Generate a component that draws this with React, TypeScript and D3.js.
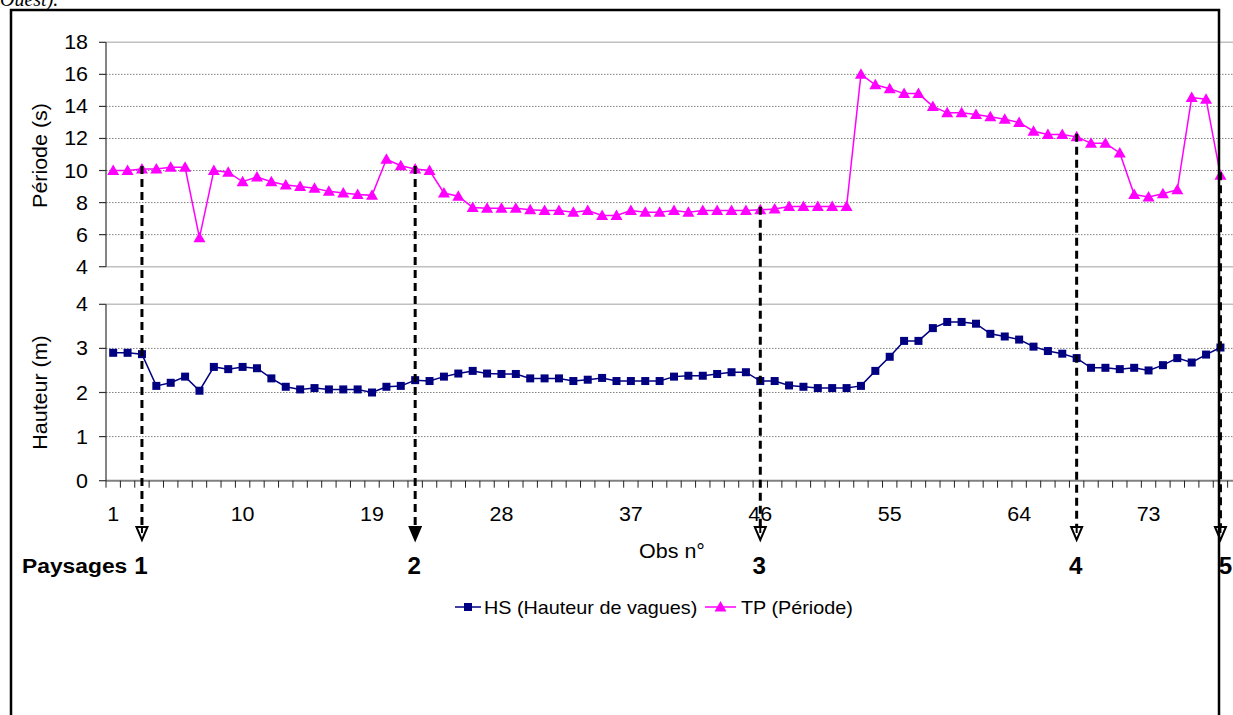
import React from "react";
import * as d3 from "d3";

const OBS: number[] = Array.from({ length: 78 }, (_, i) => i + 1);
const TP: number[] = [
  10.0, 10.0, 10.1, 10.1, 10.2, 10.2, 5.8, 10.0, 9.9, 9.3,
  9.6, 9.3, 9.1, 9.0, 8.9, 8.7, 8.6, 8.5, 8.45, 10.7,
  10.3, 10.1, 10.0, 8.6, 8.4, 7.7, 7.65, 7.65, 7.65, 7.55,
  7.5, 7.5, 7.4, 7.5, 7.2, 7.2, 7.5, 7.4, 7.4, 7.5,
  7.4, 7.5, 7.5, 7.5, 7.5, 7.55, 7.6, 7.75, 7.75, 7.75,
  7.75, 7.75, 16.0, 15.35, 15.1, 14.8, 14.8, 14.0, 13.6, 13.6,
  13.5, 13.35, 13.2, 13.0, 12.45, 12.25, 12.25, 12.1, 11.7, 11.7,
  11.1, 8.5, 8.35, 8.55, 8.8, 14.55, 14.45, 9.7,
];
const HS: number[] = [
  2.9, 2.9, 2.87, 2.15, 2.22, 2.36, 2.04, 2.58, 2.53, 2.58,
  2.55, 2.32, 2.13, 2.07, 2.1, 2.07, 2.07, 2.07, 2.0, 2.13,
  2.15, 2.28, 2.26, 2.36, 2.43, 2.49, 2.43, 2.42, 2.42, 2.32,
  2.32, 2.32, 2.26, 2.29, 2.33, 2.26, 2.26, 2.26, 2.26, 2.36,
  2.38, 2.38, 2.42, 2.46, 2.46, 2.26, 2.26, 2.16, 2.13, 2.1,
  2.1, 2.1, 2.15, 2.49, 2.81, 3.17, 3.17, 3.46, 3.6, 3.6,
  3.56, 3.33, 3.27, 3.2, 3.04, 2.94, 2.88, 2.78, 2.56, 2.56,
  2.53, 2.56, 2.5, 2.62, 2.78, 2.68, 2.86, 3.02,
];
const TP_TICKS: number[] = [4, 6, 8, 10, 12, 14, 16, 18];
const HS_TICKS: number[] = [0, 1, 2, 3, 4];
const X_LABELS: number[] = [1, 10, 19, 28, 37, 46, 55, 64, 73];
const PAYSAGE_OBS: number[] = [3, 22, 46, 68, 78];
const PAYSAGE_LABELS: string[] = ["1", "2", "3", "4", "5"];
const PAYSAGE_FILLED: boolean[] = [false, true, false, false, false];
const SERIES_NAMES: string[] = ["HS (Hauteur de vagues)", "TP (Période)"];

const FONT = "'Liberation Sans', Arial, sans-serif";
const HS_COLOR = "#000080";
const TP_COLOR = "#FF00FF";

function T({ x, y, size, anchor = "start", bold = false, sx = 1.1, rotate = 0, children }: any) {
  return (
    <g transform={`translate(${x},${y}) rotate(${rotate}) scale(${sx},1)`}>
      <text
        x={0}
        y={0}
        fontFamily={FONT}
        fontSize={size}
        fontWeight={bold ? "bold" : "normal"}
        textAnchor={anchor}
        fill="#000"
      >
        {children}
      </text>
    </g>
  );
}

export default function App() {
  const W = 1233;
  const H = 715;
  const x0 = 106;
  const bw = 14.38;
  const x = d3
    .scaleBand<number>()
    .domain(OBS)
    .range([x0, x0 + bw * OBS.length])
    .paddingInner(0)
    .paddingOuter(0);
  const cx = (o: number) => (x(o) as number) + x.bandwidth() / 2;
  const yTop = d3.scaleLinear().domain([4, 18]).range([266.7, 42.3]);
  const yBot = d3.scaleLinear().domain([0, 4]).range([480.7, 304.3]);
  const gridRight = 1233;

  const tpLine = d3
    .line<number>()
    .x((_, i) => cx(OBS[i]))
    .y((d) => yTop(d));
  const hsLine = d3
    .line<number>()
    .x((_, i) => cx(OBS[i]))
    .y((d) => yBot(d));

  const tri = (px: number, py: number, s = 6) =>
    `M${px},${py - s}L${px + s},${py + s * 0.75}L${px - s},${py + s * 0.75}Z`;

  const arrowTip = 540;
  const arrowHeadH = 13;

  return (
    <svg
      width={W}
      height={H}
      style={{ position: "absolute", left: 0, top: 0, background: "#fff" }}
    >
      <rect x={0} y={0} width={W} height={H} fill="#fff" />
      {/* Cropped text of the document above */}
      <text x={0} y={6} fontFamily="'Liberation Serif', serif" fontStyle="italic" fontSize={20}>
        Ouest).
      </text>

      {/* Top chart grid */}
      {TP_TICKS.map((t) => (
        <line
          key={"tg" + t}
          x1={x0}
          x2={gridRight}
          y1={yTop(t)}
          y2={yTop(t)}
          stroke={t === 4 || t === 18 ? "#c0c0c0" : "#808080"}
          strokeWidth={t === 4 || t === 18 ? 1.5 : 1}
          strokeDasharray={t === 4 || t === 18 ? undefined : "1.5,1.5"}
        />
      ))}
      <line x1={x0} x2={x0} y1={yTop(18)} y2={yTop(4)} stroke="#333" strokeWidth={1.2} />
      {TP_TICKS.map((t) => (
        <g key={"tt" + t}>
          <line x1={x0 - 7} x2={x0} y1={yTop(t)} y2={yTop(t)} stroke="#333" strokeWidth={1.2} />
          <T x={88} y={yTop(t) + 7} size={19.5} anchor="end">
            {t}
          </T>
        </g>
      ))}
      <T x={47} y={yTop(11) + 1} size={19.5} anchor="middle" rotate={-90}>
        Période (s)
      </T>

      {/* Bottom chart grid */}
      {HS_TICKS.filter((t) => t > 0).map((t) => (
        <line
          key={"hg" + t}
          x1={x0}
          x2={gridRight}
          y1={yBot(t)}
          y2={yBot(t)}
          stroke={t === 4 ? "#c0c0c0" : "#808080"}
          strokeWidth={t === 4 ? 1.5 : 1}
          strokeDasharray={t === 4 ? undefined : "1.5,1.5"}
        />
      ))}
      <line x1={x0} x2={gridRight} y1={yBot(0)} y2={yBot(0)} stroke="#808080" strokeWidth={2} />
      <line x1={x0} x2={x0} y1={yBot(4)} y2={yBot(0)} stroke="#333" strokeWidth={1.2} />
      {HS_TICKS.map((t) => (
        <g key={"ht" + t}>
          <line x1={x0 - 7} x2={x0} y1={yBot(t)} y2={yBot(t)} stroke="#333" strokeWidth={1.2} />
          <T x={88} y={yBot(t) + 7} size={19.5} anchor="end">
            {t}
          </T>
        </g>
      ))}
      <T x={47} y={yBot(2)} size={19.5} anchor="middle" rotate={-90}>
        Hauteur (m)
      </T>
      {/* x ticks */}
      {OBS.concat([OBS.length + 1]).map((o) => {
        const xx = o <= OBS.length ? (x(o) as number) : x0 + bw * OBS.length;
        return (
          <line key={"xt" + o} x1={xx} x2={xx} y1={yBot(0)} y2={yBot(0) + 7} stroke="#222" strokeWidth={1} />
        );
      })}
      {X_LABELS.map((o) => (
        <T key={"xl" + o} x={cx(o)} y={520.5} size={19.5} anchor="middle">
          {o}
        </T>
      ))}
      <T x={672} y={558} size={19.5} anchor="middle">
        Obs n°
      </T>

      {/* Series */}
      <path d={tpLine(TP) || ""} fill="none" stroke={TP_COLOR} strokeWidth={1.5} />
      {TP.map((v, i) => (
        <path key={"tp" + i} d={tri(cx(OBS[i]), yTop(v))} fill={TP_COLOR} />
      ))}
      <path d={hsLine(HS) || ""} fill="none" stroke={HS_COLOR} strokeWidth={1.5} />
      {HS.map((v, i) => (
        <rect key={"hs" + i} x={cx(OBS[i]) - 4} y={yBot(v) - 4} width={8} height={8} fill={HS_COLOR} />
      ))}

      {/* Paysage arrows */}
      {PAYSAGE_OBS.map((o, i) => {
        const ax = cx(o);
        const top = yTop(TP[o - 1]) - 3;
        const headTop = arrowTip - arrowHeadH;
        const last = i === PAYSAGE_OBS.length - 1;
        return (
          <g key={"pa" + i}>
            <line
              x1={ax}
              x2={ax}
              y1={top}
              y2={headTop + 2}
              stroke="#000"
              strokeWidth={3}
              strokeDasharray="8,5"
            />
            <path
              d={`M${ax - 5.5},${headTop}L${ax + 5.5},${headTop}L${ax},${arrowTip}Z`}
              fill={PAYSAGE_FILLED[i] ? "#000" : "#fff"}
              stroke="#000"
              strokeWidth={2}
            />
            {!PAYSAGE_FILLED[i] && (
              <line x1={ax} x2={ax} y1={headTop} y2={headTop + 6} stroke="#000" strokeWidth={2} />
            )}
            <T x={last ? ax + 5 : ax - 1} y={574} size={23} bold anchor="middle" sx={1.05}>
              {PAYSAGE_LABELS[i]}
            </T>
          </g>
        );
      })}
      <T x={22} y={573} size={19.5} bold sx={1.17}>
        Paysages
      </T>

      {/* Legend */}
      <line x1={455} x2={481} y1={607} y2={607} stroke={HS_COLOR} strokeWidth={1.5} />
      <rect x={464} y={603} width={8} height={8} fill={HS_COLOR} />
      <T x={484} y={614} size={18} sx={1.1}>
        {SERIES_NAMES[0]}
      </T>
      <line x1={705} x2={736} y1={607} y2={607} stroke={TP_COLOR} strokeWidth={1.5} />
      <path d={tri(720.5, 607)} fill={TP_COLOR} />
      <T x={741} y={614} size={18} sx={1.1}>
        {SERIES_NAMES[1]}
      </T>

      {/* Frame */}
      <rect x={11} y={10} width={1208} height={730} fill="none" stroke="#000" strokeWidth={2.5} />
    </svg>
  );
}
